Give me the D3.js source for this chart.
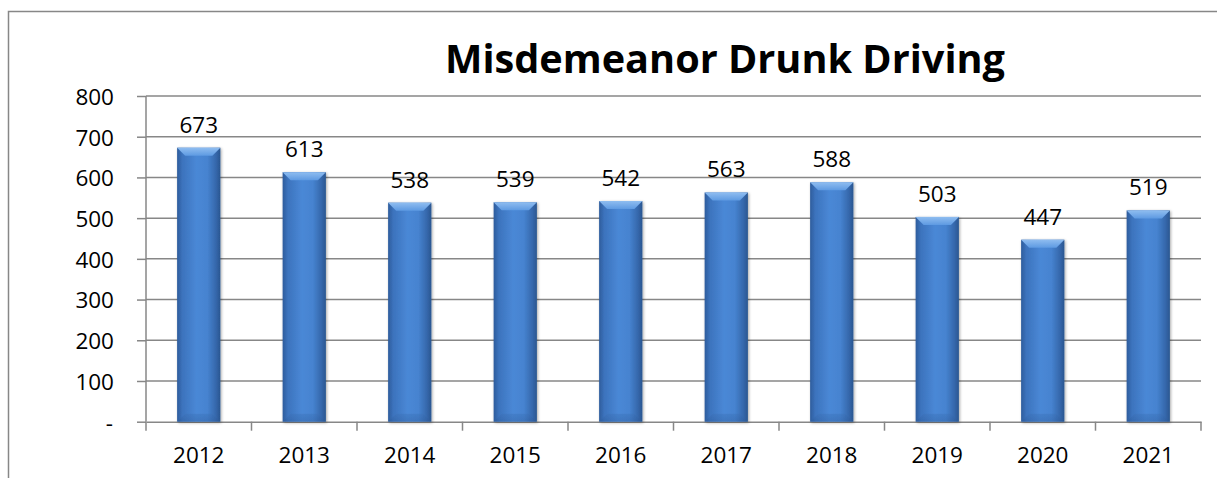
<!DOCTYPE html>
<html>
<head>
<meta charset="utf-8">
<script src="https://cdn.jsdelivr.net/npm/d3@7"></script>
<style>
  html, body { margin: 0; padding: 0; background: #fff; }
  svg { display: block; }
  text { font-family: "Open Sans", "Liberation Sans", sans-serif; fill: #000; }
</style>
</head>
<body>
<svg id="chart" width="1217" height="478"></svg>
<script>
const chartTitle = "Misdemeanor Drunk Driving";
const years = ["2012", "2013", "2014", "2015", "2016", "2017", "2018", "2019", "2020", "2021"];
const counts = [673, 613, 538, 539, 542, 563, 588, 503, 447, 519];
const yTicks = [0, 100, 200, 300, 400, 500, 600, 700, 800];

const W = 1217, H = 478;
const plot = { left: 146, right: 1201, top: 96, bottom: 421.7 };
const svg = d3.select("#chart");

const defs = svg.append("defs");
const g1 = defs.append("linearGradient").attr("id", "barBody").attr("x1", "0").attr("x2", "1").attr("y1", "0").attr("y2", "0");
[["0%", "#2d5c9c"], ["12%", "#3c73bd"], ["45%", "#4a88d6"], ["70%", "#4683d0"], ["90%", "#3567ab"], ["100%", "#2a5690"]]
  .forEach(([o, c]) => g1.append("stop").attr("offset", o).attr("stop-color", c));
const gTop = defs.append("linearGradient").attr("id", "barTop").attr("x1", "0").attr("x2", "0").attr("y1", "0").attr("y2", "1");
[["0%", "#8fbdf0"], ["100%", "#5e9ae2"]].forEach(([o, c]) => gTop.append("stop").attr("offset", o).attr("stop-color", c));
const gSide = defs.append("linearGradient").attr("id", "barSide").attr("x1", "0").attr("x2", "0").attr("y1", "0").attr("y2", "1");
[["0%", "#4f8ad2"], ["100%", "#3b71b8"]].forEach(([o, c]) => gSide.append("stop").attr("offset", o).attr("stop-color", c));
const gBot = defs.append("linearGradient").attr("id", "barBot").attr("x1", "0").attr("x2", "0").attr("y1", "0").attr("y2", "1");
[["0%", "#3a6eb4"], ["100%", "#2a5795"]].forEach(([o, c]) => gBot.append("stop").attr("offset", o).attr("stop-color", c));
const shadow = defs.append("filter").attr("id", "shadow").attr("x", "-20%").attr("y", "-5%").attr("width", "140%").attr("height", "110%");
shadow.append("feGaussianBlur").attr("in", "SourceAlpha").attr("stdDeviation", 1.5).attr("result", "b");
shadow.append("feOffset").attr("in", "b").attr("dx", 1).attr("dy", 1).attr("result", "o");
shadow.append("feComponentTransfer").attr("in", "o").attr("result", "s").append("feFuncA").attr("type", "linear").attr("slope", 0.35);
const fm = shadow.append("feMerge");
fm.append("feMergeNode").attr("in", "s");
fm.append("feMergeNode").attr("in", "SourceGraphic");

// outer frame (left and top edges visible)
svg.append("path")
  .attr("d", `M8.5,${H} V11.5 H${W}`)
  .attr("fill", "none").attr("stroke", "#878787").attr("stroke-width", 1.5);

const x = d3.scaleBand().domain(years).range([plot.left, plot.right]);
const y = d3.scaleLinear().domain([0, 800]).range([plot.bottom, plot.top]);

// gridlines + y ticks
const yAxis = d3.axisLeft(y).tickValues(yTicks).tickSize(9).tickPadding(23)
  .tickFormat(d => d === 0 ? "-" : d3.format("d")(d));
const gy = svg.append("g").attr("transform", `translate(${plot.left},0)`).call(yAxis);
gy.select(".domain").remove();
gy.selectAll(".tick line").attr("stroke", "#878787").attr("stroke-width", 1.5);
gy.selectAll(".tick text").style("font-size", "22.5px").attr("dy", "0.37em").attr("x", -32);
gy.selectAll(".tick text").filter(d => d === 0).attr("x", -33);

svg.append("g").selectAll("line").data(yTicks.filter(d => d > 0)).join("line")
  .attr("x1", plot.left).attr("x2", plot.right)
  .attr("y1", d => y(d)).attr("y2", d => y(d))
  .attr("stroke", "#878787").attr("stroke-width", 1.5);

// vertical axis line
svg.append("line").attr("x1", plot.left).attr("x2", plot.left).attr("y1", plot.top).attr("y2", plot.bottom)
  .attr("stroke", "#878787").attr("stroke-width", 1.5);

// x axis
const xAxis = d3.axisBottom(x).tickSize(0).tickPadding(25);
const gx = svg.append("g").attr("transform", `translate(0,${plot.bottom})`).call(xAxis);
gx.select(".domain").attr("stroke", "#878787").attr("stroke-width", 1.5);
gx.selectAll(".tick text").style("font-size", "22.5px");
// category boundary ticks
const bounds = years.map(d => x(d)).concat([x(years[years.length - 1]) + x.bandwidth()]);
svg.append("g").selectAll("line").data(bounds).join("line")
  .attr("x1", d => d).attr("x2", d => d)
  .attr("y1", plot.bottom).attr("y2", plot.bottom + 9)
  .attr("stroke", "#878787").attr("stroke-width", 1.5);

// bars
const bw = x.bandwidth() * 0.41;
const bevel = 8;
const rows = years.map((yr, i) => ({ yr, v: counts[i] }));
const bars = svg.append("g").selectAll("g").data(rows).join("g")
  .attr("filter", "url(#shadow)");
const bx = d => x(d.yr) + (x.bandwidth() - bw) / 2;
bars.append("rect")
  .attr("x", bx)
  .attr("y", d => y(d.v))
  .attr("width", bw)
  .attr("height", d => plot.bottom - y(d.v))
  .attr("fill", "url(#barBody)");
bars.append("path")
  .attr("d", d => {
    const x0 = bx(d), x1 = x0 + bw, t = y(d.v);
    return `M${x0},${t} H${x1} L${x1 - bevel},${t + bevel} H${x0 + bevel} Z`;
  })
  .attr("fill", "url(#barTop)");
bars.append("path")
  .attr("d", d => {
    const x0 = bx(d), x1 = x0 + bw, b = plot.bottom;
    return `M${x0},${b} H${x1} L${x1 - bevel},${b - bevel} H${x0 + bevel} Z`;
  })
  .attr("fill", "url(#barBot)").attr("opacity", 0.35);

// value labels
svg.append("g").selectAll("text").data(rows).join("text")
  .attr("x", d => x(d.yr) + x.bandwidth() / 2)
  .attr("y", d => y(d.v) - 15)
  .attr("text-anchor", "middle")
  .style("font-size", "22.5px")
  .text(d => d.v);

// title
const title = svg.append("text")
  .attr("x", 725).attr("y", 73)
  .attr("text-anchor", "middle")
  .style("font-size", "35px").style("font-weight", "bold")
  .text(chartTitle);
const tw = title.node().getComputedTextLength();
title.style("font-size", (35 * 560 / tw).toFixed(2) + "px");
</script>
</body>
</html>
